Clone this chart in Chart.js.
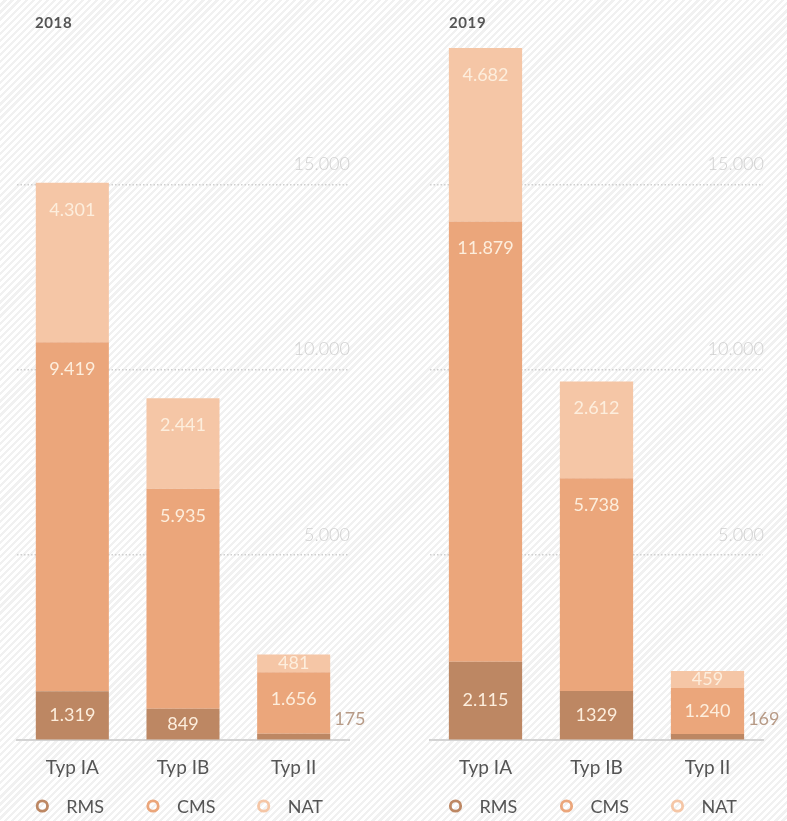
<!DOCTYPE html>
<html>
<head>
<meta charset="utf-8">
<script src="https://cdn.jsdelivr.net/npm/chart.js@4/dist/chart.umd.min.js"></script>
<style>
  html, body {
    margin: 0;
    padding: 0;
  }
  body {
    width: 787px;
    height: 821px;
    position: relative;
    overflow: hidden;
    font-family: Lato, "Open Sans", sans-serif;
    background: repeating-linear-gradient(135deg, #ffffff 0px, #ffffff 2.7px, #f1f1f1 2.7px, #f1f1f1 5px);
  }
  .panel {
    position: absolute;
    top: 0;
    height: 821px;
  }
  .year {
    position: absolute;
    top: 13px;
    font-weight: 700;
    font-size: 15px;
    color: #555;
    letter-spacing: 0.6px;
  }
</style>
</head>
<body>
<div class="panel" style="left:0;width:400px"><canvas id="chart2018"></canvas></div>
<div class="panel" style="left:400px;width:387px"><canvas id="chart2019"></canvas></div>
<div class="year" style="left:35px">2018</div>
<div class="year" style="left:449px">2019</div>
<script>
// categories and series
const categories = ["Typ IA", "Typ IB", "Typ II"];
const seriesNames = ["RMS", "CMS", "NAT"];
const seriesColors = ["#bd8763", "#eba67b", "#f5c6a6"];

// 2018
const rms2018 = [1319, 849, 175];
const cms2018 = [9419, 5935, 1656];
const nat2018 = [4301, 2441, 481];

// 2019
const rms2019 = [2115, 1329, 169];
const cms2019 = [11879, 5738, 1240];
const nat2019 = [4682, 2612, 459];
// printed without the thousands dot in the 2019 report
const plainLabels2019 = [1329];

const yTicks = [0, 5000, 10000, 15000];
const yMax = 19000;

function fmt(v, plain) {
  if (plain && plain.indexOf(v) !== -1) return String(v);
  return String(v).replace(/\B(?=(\d{3})+(?!\d))/g, ".");
}

const FONT = "Lato, 'Open Sans', sans-serif";

// numbers inside the bars (or beside them when the segment is too thin)
const valueLabels = {
  id: "valueLabels",
  afterDatasetsDraw(chart, args, opts) {
    const ctx = chart.ctx;
    ctx.save();
    ctx.font = "18px " + FONT;
    ctx.textBaseline = "middle";
    chart.data.datasets.forEach((ds, di) => {
      const meta = chart.getDatasetMeta(di);
      meta.data.forEach((bar, i) => {
        const v = ds.data[i];
        const h = bar.base - bar.y;
        const txt = fmt(v, opts.plain);
        if (h < 12) {
          ctx.fillStyle = "#b79a86";
          ctx.textAlign = "left";
          ctx.fillText(txt, bar.x + bar.width / 2 + 4, bar.base - 20);
        } else {
          ctx.fillStyle = "#fdeedd";
          ctx.textAlign = "center";
          const y = di === 0 ? bar.y + h / 2 : bar.y + Math.min(27, h / 2);
          ctx.fillText(txt, bar.x, y);
        }
      });
    });
    ctx.restore();
  }
};

// ring markers with series names, one under each column
const ringLegend = {
  id: "ringLegend",
  afterDraw(chart) {
    const ctx = chart.ctx;
    const x = chart.scales.x;
    const y = 806;
    ctx.save();
    ctx.font = "18px " + FONT;
    ctx.textBaseline = "middle";
    ctx.textAlign = "left";
    chart.data.datasets.forEach((ds, di) => {
      const cx = x.getPixelForValue(di);
      ctx.beginPath();
      ctx.arc(cx - 30, y, 5.2, 0, Math.PI * 2);
      ctx.lineWidth = 2.8;
      ctx.strokeStyle = ds.backgroundColor;
      ctx.stroke();
      ctx.fillStyle = "#555";
      ctx.fillText(ds.label, cx - 6, y + 1);
    });
    ctx.restore();
  }
};

function makeChart(id, rms, cms, nat, padLeft, padRight, plain) {
  const ctx = document.getElementById(id).getContext("2d");
  const values = [rms, cms, nat];
  return new Chart(ctx, {
    type: "bar",
    data: {
      labels: categories,
      datasets: seriesNames.map((name, i) => ({
        label: name,
        data: values[i],
        backgroundColor: seriesColors[i],
        borderWidth: 0,
        categoryPercentage: 1,
        barPercentage: 0.66,
      })),
    },
    options: {
      responsive: true,
      maintainAspectRatio: false,
      animation: false,
      layout: {
        padding: { left: padLeft, right: padRight, top: 36, bottom: 26 },
      },
      plugins: {
        legend: { display: false },
        tooltip: { enabled: false },
        valueLabels: { plain: plain },
      },
      scales: {
        x: {
          stacked: true,
          grid: { display: false, drawTicks: false },
          border: { display: true, color: "#d4d4d4", width: 2 },
          ticks: {
            color: "#555",
            padding: 16,
            font: { family: FONT, size: 19 },
          },
        },
        y: {
          stacked: true,
          position: "right",
          min: 0,
          max: yMax,
          afterBuildTicks: (scale) => {
            scale.ticks = yTicks.map((v) => ({ value: v }));
          },
          grid: {
            drawTicks: false,
            lineWidth: 1.5,
            color: (c) => (c.tick && c.tick.value === 0 ? "rgba(0,0,0,0)" : "#cfcfcf"),
          },
          border: { display: false, dash: [1.5, 2] },
          ticks: {
            mirror: true,
            padding: 1,
            labelOffset: -20,
            color: "#d0d0d0",
            font: { family: FONT, size: 18, weight: "300" },
            callback: (v) => (v === 0 ? "" : fmt(v)),
          },
        },
      },
    },
    plugins: [valueLabels, ringLegend],
  });
}

makeChart("chart2018", rms2018, cms2018, nat2018, 17, 49, []);
makeChart("chart2019", rms2019, cms2019, nat2019, 30, 22, plainLabels2019);
</script>
</body>
</html>
